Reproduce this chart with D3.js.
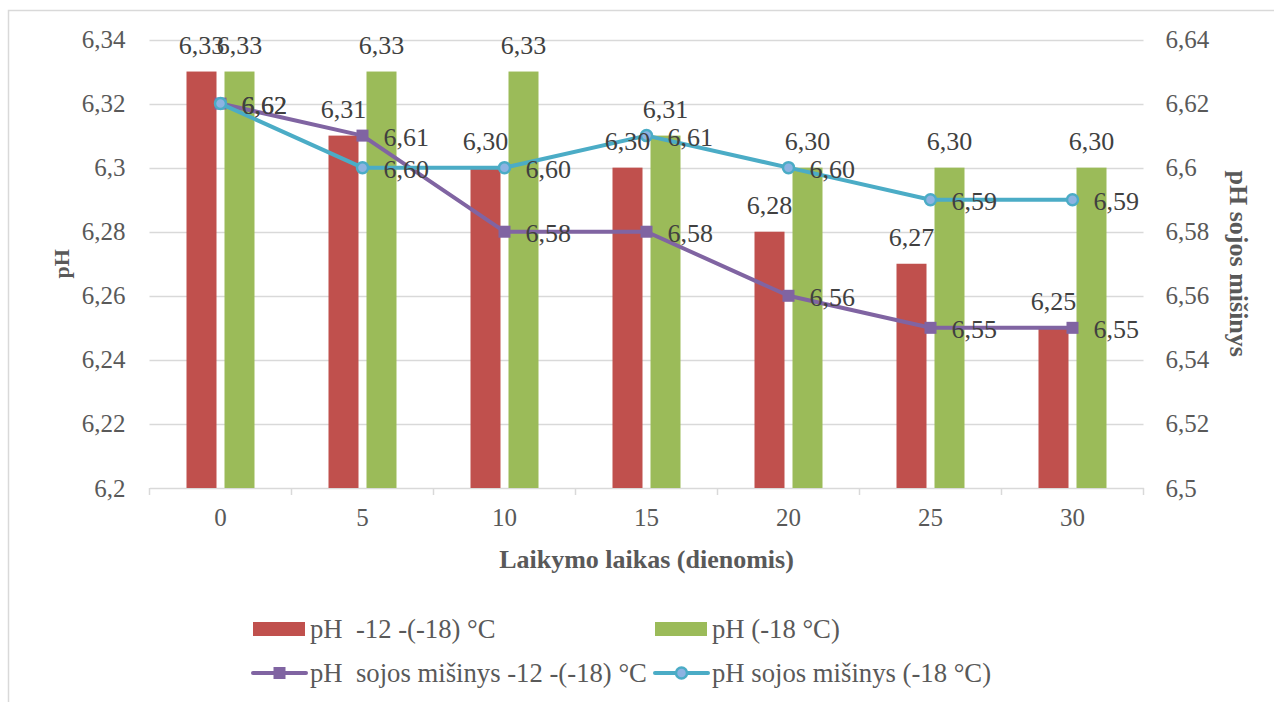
<!DOCTYPE html>
<html>
<head>
<meta charset="utf-8">
<script src="https://cdn.jsdelivr.net/npm/d3@7"></script>
<style>
  html, body { margin: 0; padding: 0; background: #fff; }
  svg { display: block; font-family: "Liberation Serif", "Times New Roman", serif; }
</style>
</head>
<body>
<svg id="chart" width="1274" height="702"></svg>
<script>
// Storage time in days
const days = ["0", "5", "10", "15", "20", "25", "30"];
// Bar series (left axis)
const phWarm = [6.33, 6.31, 6.30, 6.30, 6.28, 6.27, 6.25];
const phCold = [6.33, 6.33, 6.33, 6.31, 6.30, 6.30, 6.30];
// Line series (right axis)
const soyWarm = [6.62, 6.61, 6.58, 6.58, 6.56, 6.55, 6.55];
const soyCold = [6.62, 6.60, 6.60, 6.61, 6.60, 6.59, 6.59];
// Axis ticks
const leftTicks = [6.2, 6.22, 6.24, 6.26, 6.28, 6.3, 6.32, 6.34];
const rightTicks = [6.5, 6.52, 6.54, 6.56, 6.58, 6.6, 6.62, 6.64];
const seriesNames = ["pH  -12 -(-18) °C", "pH (-18 °C)", "pH  sojos mišinys -12 -(-18) °C", "pH sojos mišinys (-18 °C)"];

const C = { red: "#C0504D", green: "#9BBB59", purple: "#8064A2", cyan: "#4BACC6", cyanFill: "#8DB3E2",
            text: "#404040", tick: "#595959", grid: "#D9D9D9" };

const svg = d3.select("#chart");
const plotLeft = 149.5, plotRight = 1143.5, plotTop = 39.5, plotBottom = 488;

const x = d3.scaleBand().domain(days).range([plotLeft, plotRight]).padding(0);
const yL = d3.scaleLinear().domain([6.2, 6.34]).range([plotBottom, plotTop]);
const yR = d3.scaleLinear().domain([6.5, 6.64]).range([plotBottom, plotTop]);
const cx = d => x(d) + x.bandwidth() / 2;
const fmtTick = v => d3.format(".2~f")(v).replace(".", ",");
const fmt2 = v => d3.format(".2f")(v).replace(".", ",");

// outer frame
svg.append("rect").attr("x", 8.5).attr("y", 10.5).attr("width", 1300).attr("height", 720)
  .attr("fill", "none").attr("stroke", C.grid).attr("stroke-width", 1.5);

// gridlines
svg.append("g").selectAll("line").data(leftTicks.slice(1)).join("line")
  .attr("x1", plotLeft).attr("x2", plotRight)
  .attr("y1", d => Math.round(yL(d)) + 0.5).attr("y2", d => Math.round(yL(d)) + 0.5)
  .attr("stroke", C.grid).attr("stroke-width", 1.5);

// left axis labels
const gL = svg.append("g").attr("transform", `translate(${plotLeft},0)`)
  .call(d3.axisLeft(yL).tickValues(leftTicks).tickFormat(fmtTick).tickSize(0).tickPadding(24));
gL.select(".domain").remove();
gL.selectAll("text").attr("font-family", "Liberation Serif").attr("font-size", 25).attr("fill", C.tick);

// right axis labels
const gR = svg.append("g").attr("transform", `translate(${plotRight},0)`)
  .call(d3.axisRight(yR).tickValues(rightTicks).tickFormat(fmtTick).tickSize(0).tickPadding(22));
gR.select(".domain").remove();
gR.selectAll("text").attr("font-family", "Liberation Serif").attr("font-size", 25).attr("fill", C.tick);

// bottom axis
const gB = svg.append("g").attr("transform", `translate(0,${plotBottom})`)
  .call(d3.axisBottom(x).tickSize(0).tickPadding(20));
gB.select(".domain").attr("stroke", C.grid).attr("stroke-width", 1.5);
gB.selectAll("text").attr("font-family", "Liberation Serif").attr("font-size", 25).attr("fill", C.tick);
gB.selectAll("line.sep").data(d3.range(days.length + 1)).join("line").attr("class", "sep")
  .attr("x1", i => plotLeft + i * x.bandwidth()).attr("x2", i => plotLeft + i * x.bandwidth())
  .attr("y1", 0).attr("y2", 7).attr("stroke", C.grid).attr("stroke-width", 1.5);

// bars
const barW = 30, off = 19;
const bars = [
  { vals: phWarm, color: C.red, dx: -off },
  { vals: phCold, color: C.green, dx: off }
];
bars.forEach(s => {
  svg.append("g").selectAll("rect").data(days).join("rect")
    .attr("x", (d) => cx(d) + s.dx - barW / 2)
    .attr("y", (d, i) => yL(s.vals[i]))
    .attr("width", barW)
    .attr("height", (d, i) => yL(6.2) - yL(s.vals[i]))
    .attr("fill", s.color);
});

// lines
const lines = [
  { vals: soyWarm, color: C.purple, marker: "square" },
  { vals: soyCold, color: C.cyan, marker: "circle" }
];
lines.forEach(s => {
  const line = d3.line().x(d => cx(d)).y((d, i) => yR(s.vals[i]));
  svg.append("path").datum(days).attr("d", line)
    .attr("fill", "none").attr("stroke", s.color).attr("stroke-width", 4).attr("stroke-linejoin", "round");
  const g = svg.append("g");
  if (s.marker === "square") {
    g.selectAll("rect").data(days).join("rect")
      .attr("x", d => cx(d) - 6).attr("y", (d, i) => yR(s.vals[i]) - 6)
      .attr("width", 12).attr("height", 12).attr("fill", s.color);
  } else {
    g.selectAll("circle").data(days).join("circle")
      .attr("cx", d => cx(d)).attr("cy", (d, i) => yR(s.vals[i]))
      .attr("r", 5.5).attr("fill", C.cyanFill).attr("stroke", s.color).attr("stroke-width", 2.5);
  }
});

// data labels: bars above, lines to the right
const labels = svg.append("g").attr("font-family", "Liberation Serif").attr("font-size", 26).attr("fill", C.text);
bars.forEach(s => {
  labels.append("g").selectAll("text").data(days).join("text")
    .attr("x", d => cx(d) + s.dx)
    .attr("y", (d, i) => yL(s.vals[i]) - 18)
    .attr("text-anchor", "middle")
    .text((d, i) => fmt2(s.vals[i]));
});
lines.forEach(s => {
  labels.append("g").selectAll("text").data(days).join("text")
    .attr("x", d => cx(d) + 21)
    .attr("y", (d, i) => yR(s.vals[i]) + 10)
    .attr("text-anchor", "start")
    .text((d, i) => fmt2(s.vals[i]));
});

// axis titles
svg.append("text").attr("transform", `translate(69,${(plotTop + plotBottom) / 2}) rotate(-90)`)
  .attr("text-anchor", "middle").attr("font-weight", "bold").attr("font-size", 22).attr("fill", C.tick)
  .text("pH");
svg.append("text").attr("transform", `translate(1230,${(plotTop + plotBottom) / 2}) rotate(90)`)
  .attr("text-anchor", "middle").attr("font-weight", "bold").attr("font-size", 26).attr("fill", C.tick)
  .text("pH sojos mišinys");
svg.append("text").attr("x", (plotLeft + plotRight) / 2).attr("y", 568)
  .attr("text-anchor", "middle").attr("font-weight", "bold").attr("font-size", 26).attr("fill", C.tick)
  .text("Laikymo laikas (dienomis)");

// legend
const legendItems = [
  { name: seriesNames[0], type: "bar", color: C.red, x: 253, y: 629 },
  { name: seriesNames[1], type: "bar", color: C.green, x: 655, y: 629 },
  { name: seriesNames[2], type: "square", color: C.purple, x: 253, y: 673 },
  { name: seriesNames[3], type: "circle", color: C.cyan, x: 655, y: 673 }
];
const lg = svg.append("g");
legendItems.forEach(it => {
  const g = lg.append("g").attr("transform", `translate(${it.x},${it.y})`);
  if (it.type === "bar") {
    g.append("rect").attr("x", 0).attr("y", -7).attr("width", 52).attr("height", 14).attr("fill", it.color);
  } else {
    g.append("line").attr("x1", 0).attr("x2", 53).attr("y1", 0).attr("y2", 0)
      .attr("stroke", it.color).attr("stroke-width", 4).attr("stroke-linecap", "round");
    if (it.type === "square") {
      g.append("rect").attr("x", 20.5).attr("y", -6).attr("width", 12).attr("height", 12).attr("fill", it.color);
    } else {
      g.append("circle").attr("cx", 26.5).attr("cy", 0).attr("r", 5.5)
        .attr("fill", C.cyanFill).attr("stroke", it.color).attr("stroke-width", 2.5);
    }
  }
  g.append("text").attr("x", 57).attr("y", 9).attr("font-size", 26.7).attr("fill", C.tick)
    .style("white-space", "pre").text(it.name);
});
</script>
</body>
</html>
